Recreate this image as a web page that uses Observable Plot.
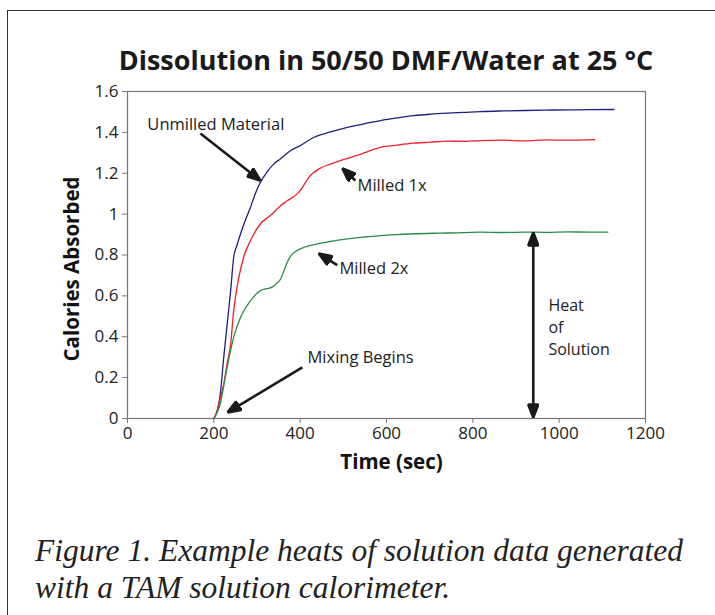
<!DOCTYPE html>
<html>
<head>
<meta charset="utf-8">
<script src="https://cdn.jsdelivr.net/npm/d3@7"></script>
<script src="https://cdn.jsdelivr.net/npm/@observablehq/plot@0.6"></script>
<style>
  html, body { margin: 0; padding: 0; background: #fff; }
  body { width: 715px; height: 615px; position: relative; overflow: hidden; font-family: "Open Sans", sans-serif; }
  #frame { position: absolute; left: 7px; top: 10px; width: 760px; height: 660px; border: 1.5px solid #333; box-sizing: border-box; }
  #title { position: absolute; left: 0; width: 772px; top: 45px; text-align: center; font-family: "Open Sans", sans-serif; font-weight: bold; font-size: 27px; line-height: 30px; color: #1a1a1a; white-space: nowrap; }
  #chart { position: absolute; left: 0; top: 80px; }
  #caption { position: absolute; left: 35px; top: 532px; font-family: "Liberation Serif", "Times New Roman", serif; font-style: italic; font-size: 31.5px; line-height: 37px; color: #222; white-space: nowrap; }
</style>
</head>
<body>
<div id="frame"></div>
<div id="title">Dissolution in 50/50 DMF/Water at 25 °C</div>
<div id="chart"></div>
<div id="caption">Figure 1. Example heats of solution data generated<br>with a TAM solution calorimeter.</div>
<script>
// ---- Data ----
const seriesNames = ["Unmilled Material", "Milled 1x", "Milled 2x"];
const seriesColors = ["#1f2080", "#ee2228", "#2a8c48"];

const timeUnmilled = [200, 208, 215, 223, 231, 239, 246, 254, 262, 273, 285, 296, 308, 323, 339, 354, 378, 401, 432, 470, 509, 548, 586, 625, 663, 702, 741, 780, 818, 870, 920, 970, 1020, 1070, 1127];
const calUnmilled  = [0, 0.04, 0.121, 0.30, 0.463, 0.626, 0.789, 0.85, 0.904, 0.97, 1.034, 1.10, 1.156, 1.205, 1.246, 1.27, 1.311, 1.336, 1.376, 1.402, 1.425, 1.442, 1.458, 1.471, 1.482, 1.489, 1.494, 1.498, 1.502, 1.505, 1.507, 1.509, 1.51, 1.511, 1.512];

const timeMilled1 = [200, 208, 215, 223, 231, 239, 246, 258, 269, 285, 308, 331, 354, 370, 393, 405, 420, 447, 470, 493, 532, 586, 625, 663, 702, 741, 780, 818, 870, 920, 970, 1020, 1082];
const calMilled1  = [0, 0.04, 0.10, 0.17, 0.27, 0.365, 0.528, 0.691, 0.789, 0.871, 0.953, 0.993, 1.04, 1.065, 1.099, 1.13, 1.18, 1.225, 1.245, 1.262, 1.287, 1.327, 1.338, 1.347, 1.352, 1.357, 1.356, 1.36, 1.362, 1.358, 1.363, 1.362, 1.365];

const timeMilled2 = [200, 208, 215, 223, 231, 246, 262, 285, 308, 322, 335, 345, 354, 362, 370, 378, 393, 410, 432, 470, 509, 548, 586, 625, 663, 720, 780, 818, 870, 920, 970, 1020, 1070, 1113];
const calMilled2  = [0, 0.03, 0.072, 0.16, 0.251, 0.398, 0.496, 0.577, 0.626, 0.635, 0.643, 0.66, 0.68, 0.72, 0.765, 0.795, 0.822, 0.838, 0.851, 0.866, 0.879, 0.888, 0.895, 0.9, 0.904, 0.907, 0.909, 0.912, 0.91, 0.912, 0.911, 0.913, 0.912, 0.912];

const xTicks = [0, 200, 400, 600, 800, 1000, 1200];
const yTicks = [0, 0.2, 0.4, 0.6, 0.8, 1, 1.2, 1.4, 1.6];

// annotations (data coordinates)
const noteText = ["Unmilled Material", "Milled 1x", "Milled 2x", "Mixing Begins"];
const noteX = [46, 533, 491, 417];
const noteY = [1.438, 1.14, 0.734, 0.298];

const heatText = ["Heat\nof\nSolution"];
const heatTextX = [975];
const heatTextY = [0.455];

const arrowX1 = [169, 528, 486, 405];
const arrowY1 = [1.394, 1.164, 0.75, 0.25];
const arrowX2 = [308, 498, 443, 232];
const arrowY2 = [1.164, 1.223, 0.807, 0.03];

const heatX = [940];
const heatY1 = [0.005];
const heatY2 = [0.91];

// ---- Build tables ----
const allTimes = [timeUnmilled, timeMilled1, timeMilled2];
const allCals = [calUnmilled, calMilled1, calMilled2];
const rows = seriesNames.flatMap((name, s) => allTimes[s].map((t, i) => ({series: name, time: t, cal: allCals[s][i]})));
const notes = noteText.map((text, i) => ({text, x: noteX[i], y: noteY[i]}));
const heatNote = heatText.map((text, i) => ({text, x: heatTextX[i], y: heatTextY[i]}));
const arrows = arrowX1.map((x1, i) => ({x1, y1: arrowY1[i], x2: arrowX2[i], y2: arrowY2[i]}));
const heat = heatX.map((x, i) => ({x, y1: heatY1[i], y2: heatY2[i]}));

function filledArrow(color, context) {
  const doc = (context && context.document) || document;
  const m = doc.createElementNS("http://www.w3.org/2000/svg", "marker");
  m.setAttribute("viewBox", "-14 -6 15 12");
  m.setAttribute("markerWidth", 15);
  m.setAttribute("markerHeight", 12);
  m.setAttribute("markerUnits", "userSpaceOnUse");
  m.setAttribute("orient", "auto-start-reverse");
  m.setAttribute("fill", color);
  const p = doc.createElementNS("http://www.w3.org/2000/svg", "path");
  p.setAttribute("d", "M-13,-5L0,0L-13,5Z");
  m.appendChild(p);
  m.node = () => m;
  return m;
}

const chart = Plot.plot({
  width: 715,
  height: 400,
  marginTop: 11,
  marginBottom: 62,
  marginLeft: 127,
  marginRight: 70,
  style: {fontFamily: "Open Sans, sans-serif", fontSize: "17px", color: "#222", background: "transparent", overflow: "visible"},
  x: {domain: [0, 1200]},
  y: {domain: [0, 1.6]},
  color: {domain: seriesNames, range: seriesColors},
  marks: [
    Plot.frame({stroke: "#777", strokeWidth: 1.2}),
    Plot.axisX({ticks: xTicks, tickSize: 5, tickPadding: 3, tickFormat: d => String(d), label: null, stroke: "#777"}),
    Plot.axisY({ticks: yTicks, tickSize: 5, tickPadding: 4, tickFormat: d => String(+d.toFixed(1)), label: null, stroke: "#777"}),
    Plot.text(["Time (sec)"], {frameAnchor: "bottom", textAnchor: "middle", dx: 5, dy: 44, fontSize: 20.5, fontWeight: "bold", fill: "#111", lineAnchor: "middle"}),
    Plot.text(["Calories Absorbed"], {frameAnchor: "left", textAnchor: "middle", rotate: -90, dx: -55, dy: 14, fontSize: 20.5, fontWeight: "bold", fill: "#111", lineAnchor: "middle"}),
    Plot.line(rows, {x: "time", y: "cal", z: "series", stroke: "series", strokeWidth: 1.3, curve: "monotone-x"}),
    Plot.link(arrows, {x1: "x1", y1: "y1", x2: "x2", y2: "y2", stroke: "#1a1a1a", strokeWidth: 2.6, markerEnd: filledArrow}),
    Plot.link(heat, {x1: "x", y1: "y1", x2: "x", y2: "y2", stroke: "#1a1a1a", strokeWidth: 2.6, markerStart: filledArrow, markerEnd: filledArrow}),
    Plot.text(notes, {x: "x", y: "y", text: "text", textAnchor: "start", lineAnchor: "middle", fontSize: 16.5, fill: "#222"}),
    Plot.text(heatNote, {x: "x", y: "y", text: "text", textAnchor: "start", lineAnchor: "middle", fontSize: 16, lineHeight: 1.38, fill: "#222"})
  ]
});
document.getElementById("chart").appendChild(chart);
</script>
</body>
</html>
